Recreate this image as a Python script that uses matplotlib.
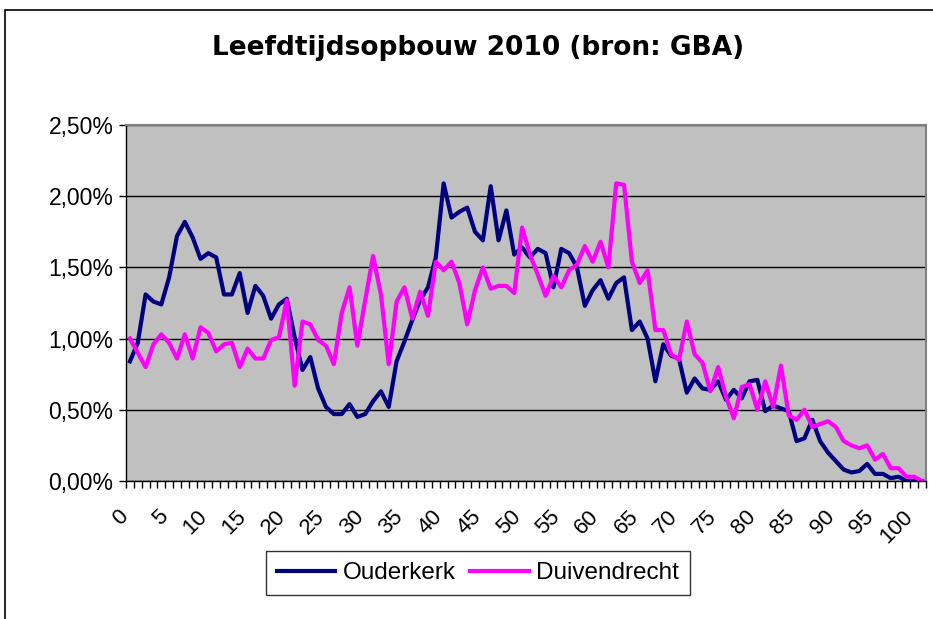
import numpy as np
import matplotlib
matplotlib.use('Agg')
import matplotlib.pyplot as plt
from matplotlib.ticker import FuncFormatter
from matplotlib.patches import Rectangle
from matplotlib.transforms import ScaledTranslation

ages = list(range(102))

ouderkerk = [
    0.84, 0.97, 1.31, 1.26, 1.24, 1.43, 1.72, 1.82, 1.71, 1.56,
    1.60, 1.57, 1.31, 1.31, 1.46, 1.18, 1.37, 1.30, 1.14, 1.24,
    1.28, 1.01, 0.78, 0.87, 0.65, 0.52, 0.47, 0.47, 0.54, 0.45,
    0.47, 0.56, 0.63, 0.52, 0.84, 0.98, 1.13, 1.27, 1.36, 1.57,
    2.09, 1.85, 1.89, 1.92, 1.75, 1.69, 2.07, 1.69, 1.90, 1.59,
    1.64, 1.57, 1.63, 1.60, 1.36, 1.63, 1.60, 1.50, 1.23, 1.34,
    1.41, 1.28, 1.39, 1.43, 1.06, 1.12, 1.00, 0.70, 0.96, 0.88,
    0.86, 0.62, 0.72, 0.65, 0.64, 0.70, 0.57, 0.64, 0.58, 0.70,
    0.71, 0.49, 0.53, 0.51, 0.49, 0.28, 0.30, 0.43, 0.28, 0.20,
    0.14, 0.08, 0.06, 0.07, 0.12, 0.05, 0.05, 0.02, 0.03, 0.00,
    0.00, 0.00,
]

duivendrecht = [
    1.00, 0.90, 0.80, 0.96, 1.03, 0.97, 0.86, 1.03, 0.86, 1.08,
    1.04, 0.91, 0.96, 0.97, 0.80, 0.93, 0.86, 0.86, 0.99, 1.01,
    1.27, 0.67, 1.12, 1.10, 0.99, 0.95, 0.82, 1.18, 1.36, 0.95,
    1.27, 1.58, 1.31, 0.82, 1.26, 1.36, 1.14, 1.33, 1.16, 1.54,
    1.48, 1.54, 1.39, 1.10, 1.34, 1.50, 1.35, 1.37, 1.37, 1.32,
    1.78, 1.59, 1.45, 1.30, 1.44, 1.36, 1.48, 1.52, 1.65, 1.54,
    1.68, 1.50, 2.09, 2.08, 1.54, 1.39, 1.48, 1.06, 1.06, 0.89,
    0.85, 1.12, 0.89, 0.83, 0.63, 0.80, 0.59, 0.44, 0.66, 0.68,
    0.50, 0.70, 0.52, 0.81, 0.46, 0.43, 0.50, 0.38, 0.40, 0.42,
    0.38, 0.28, 0.25, 0.23, 0.25, 0.15, 0.19, 0.09, 0.09, 0.03,
    0.03, 0.00,
]

y_ticks = [0.0, 0.5, 1.0, 1.5, 2.0, 2.5]
x_labels = list(range(0, 101, 5))

plt.rcParams['font.family'] = ['Liberation Sans', 'DejaVu Sans']

fig = plt.figure(figsize=(9.33, 6.19), dpi=100)
fig.patches.append(Rectangle((5 / 933, -0.1), 1.2, 1 - 10 / 619 + 0.1,
                             transform=fig.transFigure, fill=False,
                             edgecolor='black', linewidth=1.2))

ax = fig.add_axes([126 / 933, 1 - 481 / 619, 800 / 933, 356 / 619])
ax.set_facecolor('#C0C0C0')

ax.plot(ages, ouderkerk, color='#000080', linewidth=3.0, label='Ouderkerk')
ax.plot(ages, duivendrecht, color='#FF00FF', linewidth=3.0, label='Duivendrecht')

ax.set_xlim(-0.5, 101.5)
ax.set_ylim(0, 2.5)
ax.set_yticks(y_ticks)
ax.yaxis.set_major_formatter(FuncFormatter(lambda v, p: ('%.2f%%' % v).replace('.', ',')))
ax.grid(axis='y', color='black', linewidth=1)
ax.set_axisbelow(True)

ax.set_xticks(x_labels)
ax.set_xticklabels([str(v) for v in x_labels], rotation=45, ha='right',
                   va='top', rotation_mode='anchor')
ax.set_xticks(np.arange(-0.5, 102, 1), minor=True)
ax.tick_params(axis='x', which='major', length=0, pad=18, labelsize=16)
ax.tick_params(axis='x', which='minor', length=5, width=1, direction='out')
ax.tick_params(axis='y', length=5, width=1, labelsize=16.5, pad=4)
shift = ScaledTranslation(-12 / 100, 0, fig.dpi_scale_trans)
for lbl in ax.get_xticklabels():
    lbl.set_transform(lbl.get_transform() + shift)

for s in ['top', 'right']:
    ax.spines[s].set_color('#808080')
    ax.spines[s].set_linewidth(1.5)
for s in ['left', 'bottom']:
    ax.spines[s].set_color('black')
    ax.spines[s].set_linewidth(1)

fig.text(478 / 933, 1 - 48 / 619, 'Leefdtijdsopbouw 2010 (bron: GBA)',
         ha='center', va='center', fontsize=19, fontweight='bold',
         family='DejaVu Sans')

leg = fig.legend(loc='center', bbox_to_anchor=(478 / 933, 1 - 573 / 619),
                 ncol=2, fontsize=17.5, frameon=True, fancybox=False,
                 edgecolor='black', handlelength=2.4, columnspacing=0.6,
                 handletextpad=0.3, borderpad=0.45)
leg.get_frame().set_linewidth(1)

fig.savefig('out.png', dpi=100)
